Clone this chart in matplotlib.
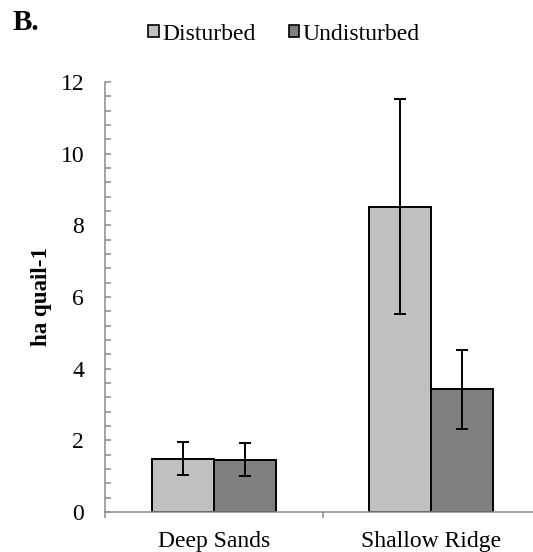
import matplotlib
matplotlib.use("Agg")
import matplotlib.pyplot as plt
from matplotlib.patches import Patch
from matplotlib.ticker import MultipleLocator, FixedLocator
import numpy as np

# Data
sites = ["Deep Sands", "Shallow Ridge"]
disturbed = [1.48, 8.52]
disturbed_err = [0.46, 3.0]
undisturbed = [1.46, 3.42]
undisturbed_err = [0.455, 1.1]
series_names = ["Disturbed", "Undisturbed"]
series_colors = ["#C0C0C0", "#808080"]

plt.rcParams["font.family"] = ["Liberation Serif", "DejaVu Serif"]

W, H = 533, 552
fig = plt.figure(figsize=(W / 100, H / 100), dpi=100)
ax = fig.add_axes([105 / W, 1 - 512 / H, 435 / W, 430 / H])

x = np.arange(len(sites))
bw = 0.286
err_kw = dict(ecolor="black", elinewidth=1.4, capsize=4.3, capthick=1.4)
ax.bar(x - bw / 2, disturbed, bw, color=series_colors[0], edgecolor="black",
       linewidth=1.4, yerr=disturbed_err, error_kw=err_kw, zorder=2)
ax.bar(x + bw / 2, undisturbed, bw, color=series_colors[1], edgecolor="black",
       linewidth=1.4, yerr=undisturbed_err, error_kw=err_kw, zorder=2)

ax.set_xlim(-0.5, 1.5)
ax.set_ylim(0, 12)

for s in ["top", "right"]:
    ax.spines[s].set_visible(False)
for s in ["left", "bottom"]:
    ax.spines[s].set_color("#8C8C8C")
    ax.spines[s].set_linewidth(1.1)

# y axis: major every 2, minor every 0.4, ticks pointing inward
ax.yaxis.set_major_locator(MultipleLocator(2))
ax.yaxis.set_minor_locator(MultipleLocator(0.4))
ax.tick_params(axis="y", which="both", direction="in", length=4.3, width=1.1,
               color="#8C8C8C", labelsize=17, pad=15)

# x axis: boundary tick marks, category labels in between
ax.xaxis.set_major_locator(FixedLocator([-0.5, 0.5, 1.5]))
ax.xaxis.set_minor_locator(FixedLocator(x))
ax.xaxis.set_major_formatter(plt.NullFormatter())
ax.set_xticklabels(sites, minor=True)
ax.tick_params(axis="x", which="major", direction="out", length=4, width=1.1,
               color="#8C8C8C")
ax.tick_params(axis="x", which="minor", length=0, labelsize=17, pad=13.5)

ax.set_ylabel("ha quail-1", fontsize=16.5, fontweight="bold")
ax.yaxis.set_label_coords(-(105 - 52) / 435, 0.5)

handles = [Patch(facecolor=c, edgecolor="black", linewidth=1.2, label=n)
           for c, n in zip(series_colors, series_names)]
fig.legend(handles=handles, loc="center", bbox_to_anchor=(0.533, 1 - 34 / H),
           ncol=2, frameon=False, fontsize=17, handlelength=0.45,
           handleheight=0.45, handletextpad=0.15, columnspacing=1.4)

fig.text(13 / W, 1 - 9 / H, "B.", fontsize=21, fontweight="bold", va="top",
         ha="left")

fig.savefig("out.png", dpi=100)
